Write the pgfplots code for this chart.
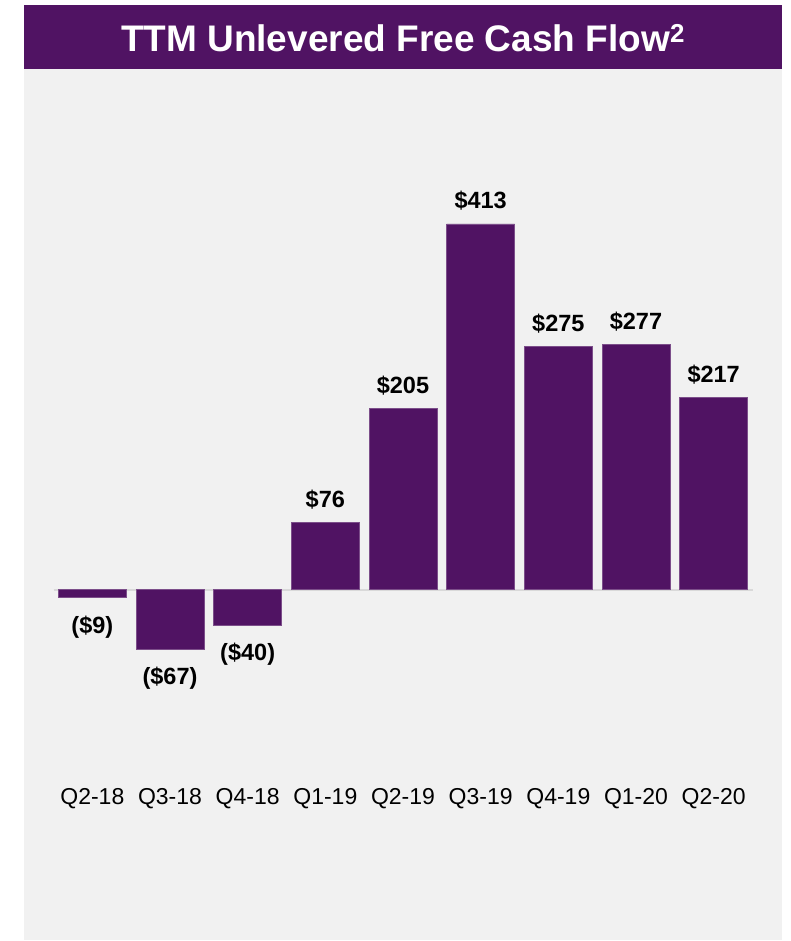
\documentclass[border=0pt]{standalone}
\usepackage{fontspec}
\setmainfont{Liberation Sans}
\usepackage{pgfplots}
\pgfplotsset{compat=1.18}

\definecolor{barpurple}{HTML}{501363}
\definecolor{paneltone}{HTML}{F1F1F1}
\definecolor{zeroline}{HTML}{D9D9D9}

\begin{document}
\begin{tikzpicture}
% page, panel and title banner
\fill[white] (0,0) rectangle (790pt,941pt);
\fill[paneltone] (24pt,1pt) rectangle (782pt,872pt);
\fill[barpurple] (24pt,872pt) rectangle (782pt,936pt);
\node[anchor=base, text=white, inner sep=0pt,
      font=\fontsize{37}{40}\selectfont\bfseries]
  at (403pt,889pt) {TTM Unlevered Free Cash Flow\textsuperscript{2}};

\begin{axis}[
  at={(53.5pt,136pt)}, anchor=south west,
  scale only axis, width=699pt, height=614pt,
  xmin=-0.5, xmax=8.5, ymin=-243, ymax=450,
  axis line style={draw=none}, major tick length=0pt,
  ytick=\empty,
  xtick={0,...,8},
  xticklabels={Q2-18,Q3-18,Q4-18,Q1-19,Q2-19,Q3-19,Q4-19,Q1-20,Q2-20},
  xticklabel style={anchor=base, inner sep=0pt,
                    font=\fontsize{23}{25}\selectfont},
  /pgf/number format/assume math mode=true,
  ybar, bar width=68pt, bar shift=0pt,
  clip=false,
]
% zero reference line
\draw[zeroline, line width=2pt] (axis cs:-0.5,0) -- (axis cs:8.5,0);

% positive quarters
\addplot[fill=barpurple, draw=barpurple!75!white, line width=0.5pt,
  nodes near coords={\$\pgfmathprintnumber{\pgfplotspointmeta}},
  every node near coord/.append style={anchor=base, yshift=15pt,
     inner sep=0pt, text=black, font=\fontsize{23.5}{25}\selectfont\bfseries}]
  coordinates {(3,76) (4,205) (5,413) (6,275) (7,277) (8,217)};

% negative quarters, labelled in parentheses
\addplot[fill=barpurple, draw=barpurple!75!white, line width=0.5pt,
  point meta=explicit,
  nodes near coords={(\$\pgfmathprintnumber{\pgfplotspointmeta})},
  every node near coord/.append style={anchor=north, yshift=-18pt,
     inner sep=0pt, text=black, font=\fontsize{23.5}{25}\selectfont\bfseries}]
  coordinates {(0,-9) [9] (1,-67) [67] (2,-40) [40]};
\end{axis}
\end{tikzpicture}
\end{document}
